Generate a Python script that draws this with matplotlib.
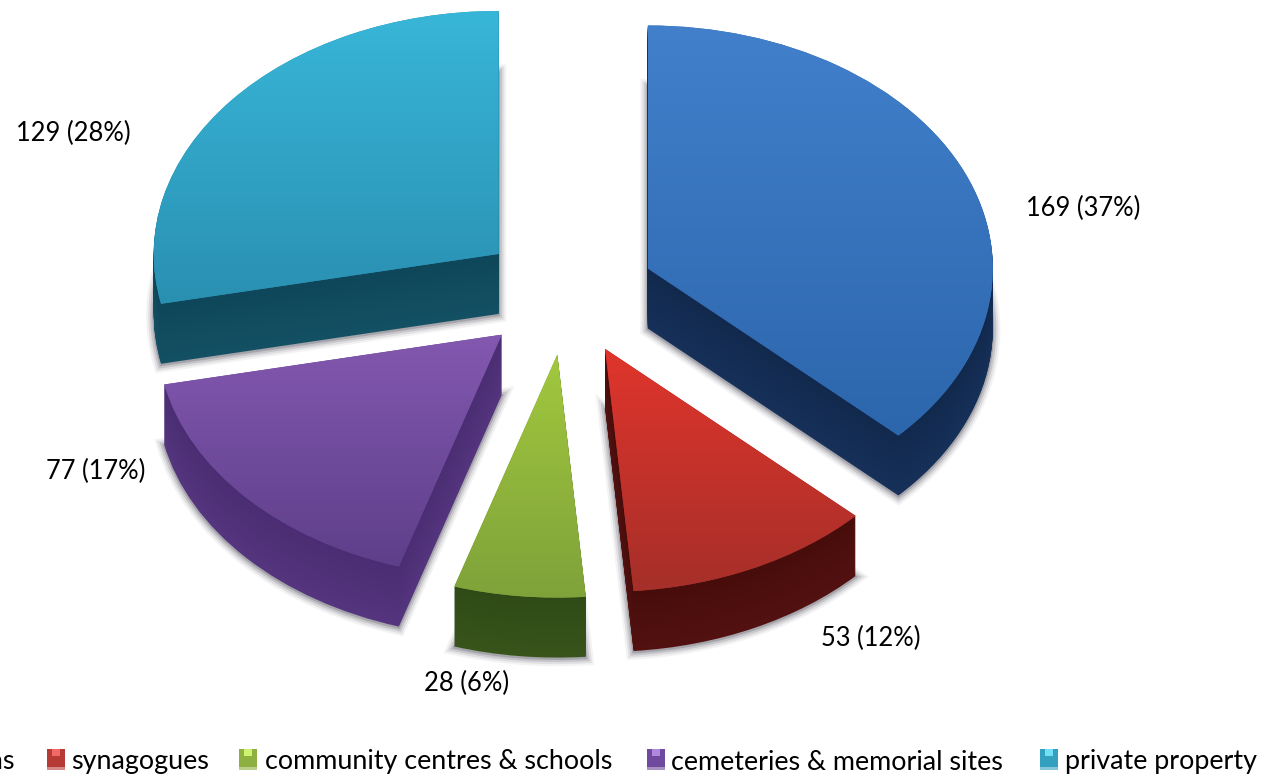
import numpy as np
import matplotlib
matplotlib.use('Agg')
import matplotlib.pyplot as plt
from matplotlib.colors import LinearSegmentedColormap, to_rgb
from matplotlib.patches import Rectangle

plt.rcParams['font.family'] = ['Lato', 'DejaVu Sans']

W, H = 1267, 777

categories = ['persons', 'synagogues', 'community centres & schools',
              'cemeteries & memorial sites', 'private property']
values = [169, 53, 28, 77, 129]
explode = [0.255] * 5

# face gradient (top, bottom) and side wall colours
face_top = ['#4280cc', '#e0352c', '#a2c83e', '#8358b0', '#38b6d8']
face_bottom = ['#2c66ac', '#a62f29', '#7fa23a', '#5e3f8a', '#2a90b2']
side_top = ['#12294d', '#470d0a', '#2f4a16', '#4a2d72', '#0f4659']
side_bottom = ['#163059', '#521110', '#38541b', '#54357e', '#135063']

# where the labels and legend entries sit, in pixels of the picture
label_pos = [(1083, 208), (871, 638), (467, 683), (96, 471), (73, 133)]
legend_text_x = [15, 71, 265, 671, 1065]
legend_box_x = [-10, 47, 239, 647, 1040]
legend_box_col = ['#3f78c4', '#b83a36', '#8db040', '#6f4a9e', '#33a0c0']
legend_box_light = ['#7fb0ea', '#f06a66', '#d0f070', '#b088e0', '#70e0f5']

center_px = (567, 293)
rx, ry = 345, 243
depth_px = 60

fig = plt.figure(figsize=(W / 100, H / 100), dpi=100)
ax = fig.add_axes([0, 0, 1, 1])


def pie_at(dy, colors, **wedgeprops):
    wedges, _ = ax.pie(values, explode=explode, colors=colors, startangle=90,
                       counterclock=False, center=(0, -dy / ry),
                       wedgeprops=wedgeprops, normalize=True)
    return wedges


# soft shadow round the bottom of the slices
for lw, a in [(11, 0.06), (8, 0.10), (5, 0.16), (2, 0.25)]:
    pie_at(depth_px + 1, [(1, 1, 1, 0)] * 5, edgecolor=(0.25, 0.25, 0.3, a), linewidth=lw)

# side walls, one thin layer per pixel of depth
for d in range(depth_px, 0, -1):
    t = d / depth_px
    cols = [tuple(np.array(to_rgb(a)) * (1 - t) + np.array(to_rgb(b)) * t)
            for a, b in zip(side_top, side_bottom)]
    pie_at(d, cols, linewidth=0)

# top faces with a vertical gradient
tops = pie_at(0, face_bottom, linewidth=0)
for w, c1, c2 in zip(tops, face_top, face_bottom):
    box = w.get_path().transformed(w.get_patch_transform()).get_extents()
    cmap = LinearSegmentedColormap.from_list('f', [c1, c2])
    im = ax.imshow(np.linspace(0, 1, 256).reshape(-1, 1), cmap=cmap, aspect='auto',
                   extent=(box.x0, box.x1, box.y0, box.y1), origin='upper', zorder=2)
    im.set_clip_path(w)

ax.set_aspect('auto')
ax.set_xlim(-center_px[0] / rx, (W - center_px[0]) / rx)
ax.set_ylim(-(H - center_px[1]) / ry, center_px[1] / ry)
ax.axis('off')


def fx(x, y):
    return x / W, 1 - y / H


total = sum(values)
for v, (x, y) in zip(values, label_pos):
    fig.text(*fx(x, y), f'{v} ({round(100 * v / total)}%)', ha='center', va='center',
             fontsize=18.4, color='black')

for i, name in enumerate(categories):
    fig.text(*fx(legend_text_x[i], 762), name, ha='left' if i else 'right',
             va='center', fontsize=19.4, color='black')
    bx = legend_box_x[i]
    if i == 0:
        continue  # its marker lies outside the picture
    fig.add_artist(Rectangle(fx(bx, 770), 18 / W, 21 / H, transform=fig.transFigure,
                             facecolor=legend_box_col[i], edgecolor='none', alpha=0.6))
    fig.add_artist(Rectangle(fx(bx, 767), 18 / W, 18 / H, transform=fig.transFigure,
                             facecolor=legend_box_col[i], edgecolor='none'))
    fig.add_artist(Rectangle(fx(bx + 5, 756), 8 / W, 7 / H, transform=fig.transFigure,
                             facecolor=legend_box_light[i], edgecolor='none'))

fig.savefig('out.png', dpi=100)
